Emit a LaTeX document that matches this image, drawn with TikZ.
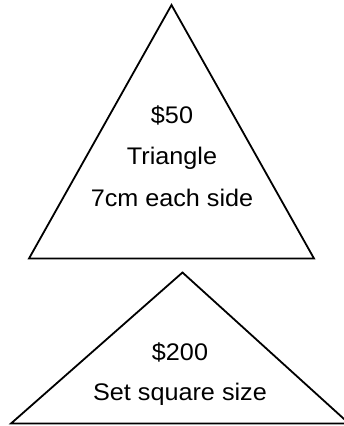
\documentclass[tikz,border=0pt]{standalone}
\usepackage{fontspec}
\setmainfont[FakeStretch=1.05]{Liberation Sans}
\begin{document}
\begin{tikzpicture}[x=1pt,y=-1pt,
  shapeline/.style={draw=black,line width=1.8pt,line join=miter},
  label/.style={anchor=base,inner sep=0pt,font=\fontsize{24}{28}\selectfont}]
\useasboundingbox (0,0) rectangle (344,426);
\clip (0,0) rectangle (344,426);
% top triangle
\coordinate (tA) at (171.5,5);
\coordinate (tL) at (29,258.5);
\coordinate (tR) at (314,258.5);
\draw[shapeline] (tA) -- (tL) -- (tR) -- cycle;
\node[label] (p1) at (172,123) {\$50};
\node[label] (n1) at (172,164) {Triangle};
\node[label] (d1) at (172,206) {7cm each side};
% bottom triangle
\coordinate (bA) at (182.5,272.5);
\coordinate (bL) at (11,423.5);
\coordinate (bR) at (349,423.5);
\draw[shapeline] (bA) -- (bL) -- (bR) -- cycle;
\node[label] (p2) at (180,360) {\$200};
\node[label] (n2) at (180,400) {Set square size};
\end{tikzpicture}
\end{document}
